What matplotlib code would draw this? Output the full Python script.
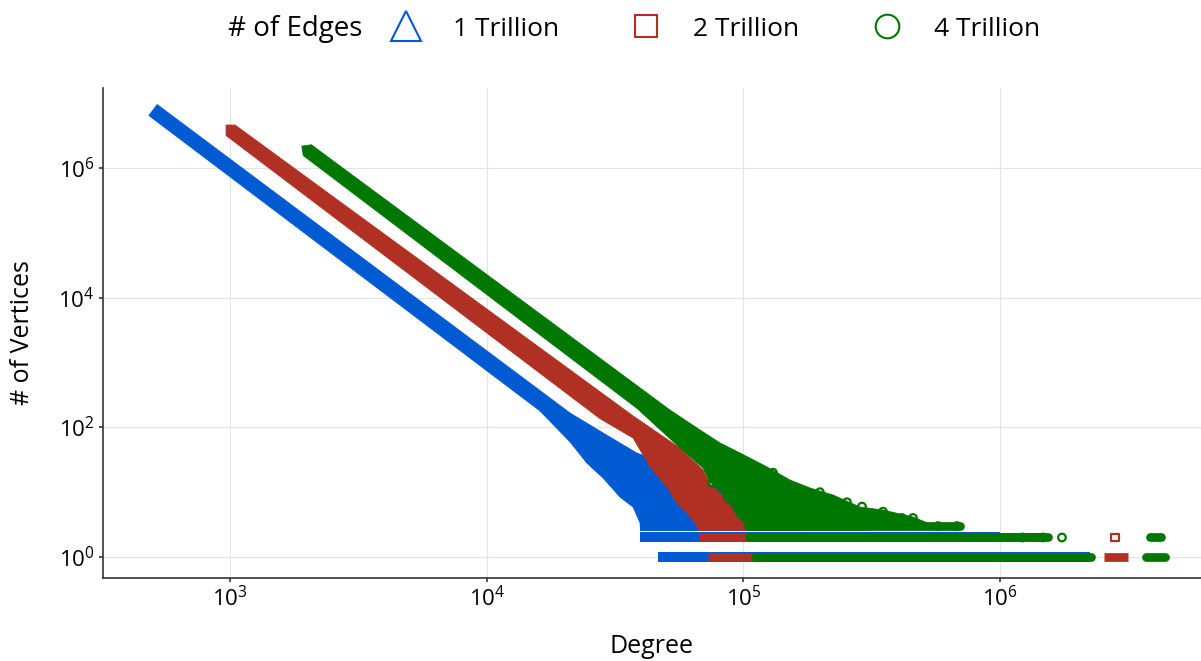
import numpy as np
import matplotlib
matplotlib.use("Agg")
import matplotlib.pyplot as plt
from matplotlib.lines import Line2D

plt.rcParams["font.family"] = ["Open Sans", "DejaVu Sans"]
plt.rcParams["mathtext.fontset"] = "custom"
plt.rcParams["mathtext.rm"] = "Open Sans"

SERIES = ["1 Trillion", "2 Trillion", "4 Trillion"]
COLORS = ["#005AD2", "#B03124", "#007700"]
MARKERS = ["^", "s", "o"]

# outline of each point cloud (degree, # of vertices)
# upper edge, left -> right
UP_DEG_1T = [520, 21100, 28400, 38500, 43300, 67800, 116000, 166000]
UP_CNT_1T = [9.6e6, 167, 82, 40, 34, 15, 6.3, 3.0]
UP_DEG_2T = [965, 1046, 37200, 56600, 69600, 74100, 86400, 95300, 104000]
UP_CNT_2T = [4.64e6, 4.64e6, 150, 48, 22, 13.5, 7.5, 3.9, 3.0]
UP_DEG_4T = [1904, 2073, 51800, 67800, 81100, 97000, 123600, 151900,
             181800, 223400, 284600, 349900, 457900, 547800, 698000]
UP_CNT_4T = [2.19e6, 2.3e6, 185, 91, 57.5, 40.3, 24.5, 15.4,
             11.6, 9.05, 5.9, 5.3, 4.14, 3.1, 3.0]
# lower edge, left -> right
LO_DEG_1T = [483, 16100, 21100, 24600, 28400, 33100, 37200, 39600, 39600]
LO_CNT_1T = [6.5e6, 181, 60, 28, 16.6, 8.4, 5.9, 3.35, 3.0]
LO_DEG_2T = [965, 27600, 37200, 43300, 50400, 55100, 60300, 66000]
LO_CNT_2T = [3.2e6, 137, 68.6, 24.5, 12, 6.8, 4.8, 3.0]
LO_DEG_4T = [1929, 38500, 55100, 69600, 74100, 86400, 95300, 104200]
LO_CNT_4T = [1.57e6, 197, 53.5, 23.6, 14.4, 8.1, 4.14, 3.0]

UP_DEG = [UP_DEG_1T, UP_DEG_2T, UP_DEG_4T]
UP_CNT = [UP_CNT_1T, UP_CNT_2T, UP_CNT_4T]
LO_DEG = [LO_DEG_1T, LO_DEG_2T, LO_DEG_4T]
LO_CNT = [LO_CNT_1T, LO_CNT_2T, LO_CNT_4T]

# runs of degrees sharing a small vertex count: count, first degree, last degree
ROW_CNT = [[3, 2, 1], [3, 2, 1, 1], [3, 2, 1, 2, 1]]
ROW_START = [[39600, 39600, 46500], [66000, 67150, 72800, 2.54e6],
             [104200, 105100, 111000, 3.83e6, 3.7e6]]
ROW_END = [[170000, 1.0e6, 2.24e6], [300000, 1.5e6, 2.2e6, 3.15e6],
           [698000, 1.54e6, 2.26e6, 4.25e6, 4.39e6]]

# isolated points off the dense bands
OUT_DEG = [[], [2.8e6],
           [75500, 87100, 97000, 130400, 198600, 253300, 289800, 349900, 415000,
            457900, 573000, 679000, 1.228e6, 1.469e6, 1.743e6]]
OUT_CNT = [[], [2],
           [14, 8, 5, 20, 10, 7, 6, 5, 4, 4, 3, 3, 2, 2, 2]]

fig = plt.figure(figsize=(12.01, 6.61), dpi=100)
ax = fig.add_axes([103 / 1201, 83 / 661, 1098 / 1201, 490 / 661])
ax.set_xscale("log")
ax.set_yscale("log")

caps = ["butt", "butt", "round"]
row_lw = [7.2, 6.3, 6.3]
for i, name in enumerate(SERIES):
    c = COLORS[i]
    xs = list(UP_DEG[i]) + list(LO_DEG[i])[::-1]
    ys = list(UP_CNT[i]) + list(LO_CNT[i])[::-1]
    ax.fill(xs, ys, color=c, lw=0.6, ec=c, zorder=2 + i)
    for cnt, s, e in zip(ROW_CNT[i], ROW_START[i], ROW_END[i]):
        ax.plot([s, e], [cnt, cnt], color=c, lw=row_lw[i],
                solid_capstyle=caps[i], zorder=2 + i)
    if OUT_DEG[i]:
        ax.scatter(OUT_DEG[i], OUT_CNT[i], marker=MARKERS[i], s=30,
                   facecolors="none", edgecolors=c, linewidths=1.6, zorder=2 + i)

ax.set_xlim(10 ** 2.505, 10 ** 6.783)
ax.set_ylim(10 ** -0.324, 10 ** 7.238)
ax.set_xticks([1e3, 1e4, 1e5, 1e6])
ax.set_yticks([1e0, 1e2, 1e4, 1e6])
ax.minorticks_off()
ax.grid(True, color="#e3e3e3", lw=0.8)
ax.set_axisbelow(True)
for side in ["top", "right"]:
    ax.spines[side].set_visible(False)
for side in ["left", "bottom"]:
    ax.spines[side].set_color("#333333")
    ax.spines[side].set_linewidth(1.2)
ax.tick_params(length=3, width=1.2, color="#333333", labelsize=16,
               labelcolor="black", pad=3)
ax.set_xlabel("Degree", fontsize=18, labelpad=16)
ax.set_ylabel("# of Vertices", fontsize=18, labelpad=17)

# legend across the top, title on the left
fig.text(228 / 1201, 1 - 29 / 661, "# of Edges", fontsize=20,
         ha="left", va="center")
handles = [Line2D([], [], ls="none", marker=m, mfc="none", mec=c, mew=1.5, ms=ms)
           for m, c, ms in zip(MARKERS, COLORS, [22, 16, 17])]
fig.legend(handles, SERIES, loc="center left", ncol=3, frameon=False,
           bbox_to_anchor=(372 / 1201, 1 - 29 / 661), fontsize=19,
           borderpad=0, handlelength=1.6, handletextpad=0.98, columnspacing=2.5)

fig.savefig("out.png", dpi=100)
